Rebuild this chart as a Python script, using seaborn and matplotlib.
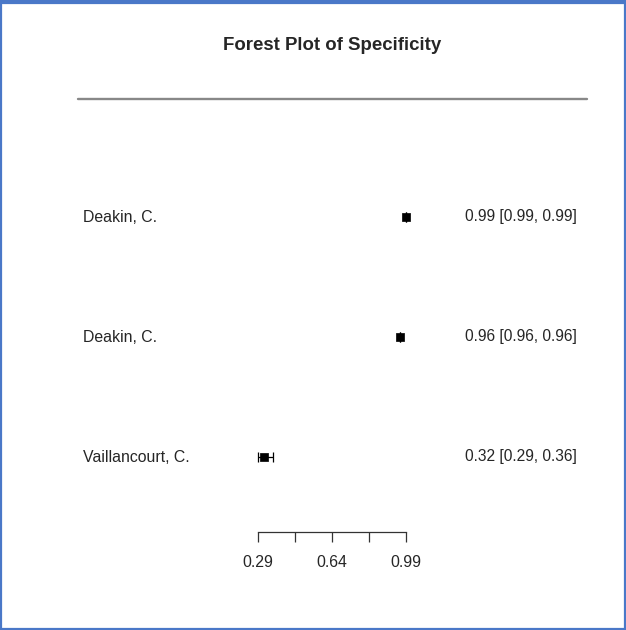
import numpy as np
import pandas as pd
import matplotlib
matplotlib.use("Agg")
import matplotlib.pyplot as plt
import matplotlib.transforms as mtransforms
from matplotlib.patches import Rectangle
from matplotlib.lines import Line2D
import seaborn as sns

# ── Data ──────────────────────────────────────────────────────────────────────
STUDIES = ["Deakin, C.", "Deakin, C.", "Vaillancourt, C."]
SPEC    = [0.99, 0.96, 0.32]
LOWER   = [0.99, 0.96, 0.29]
UPPER   = [0.99, 0.96, 0.36]
TICKS       = [0.29, 0.465, 0.64, 0.815, 0.99]
TICK_LABELS = ["0.29", "", "0.64", "", "0.99"]

df = pd.DataFrame({"study": STUDIES, "spec": SPEC, "lo": LOWER, "hi": UPPER})
df["row"] = np.arange(len(df))
df["label"] = [f"{s:.2f} [{l:.2f}, {h:.2f}]" for s, l, h in zip(SPEC, LOWER, UPPER)]

# ── Style ─────────────────────────────────────────────────────────────────────
sns.set_style("white")
plt.rcParams["font.family"] = ["Liberation Sans", "DejaVu Sans"]
TXT = "#262626"
BORDER = "#4a78c8"

W, H = 626, 630
fig = plt.figure(figsize=(W / 100, H / 100), dpi=100)
ax = fig.add_axes([0, 0, 1, 1])

# pixel mapping: 0.29 -> x=258, 0.99 -> x=406 ; row i -> y=217+120*i
ppu = (406 - 258) / (0.99 - 0.29)
ax.set_xlim(0.29 - 258 / ppu, 0.29 + (W - 258) / ppu)
ax.set_ylim((H - 217) / 120, -217 / 120)

# CI + points
ax.errorbar(df["spec"], df["row"],
            xerr=[df["spec"] - df["lo"], df["hi"] - df["spec"]],
            fmt="none", ecolor="black", elinewidth=0.9, capsize=3.5, capthick=0.9)
sns.scatterplot(data=df, x="spec", y="row", marker="s", s=32, color="black",
                edgecolor="black", linewidth=0.5, ax=ax, legend=False, zorder=3)

# study labels and estimate text
trans = mtransforms.blended_transform_factory(ax.transAxes, ax.transData)
for _, r in df.iterrows():
    ax.text(83 / W, r["row"], r["study"], transform=trans, ha="left",
            va="center", fontsize=11.4, color=TXT)
    ax.text(465 / W, r["row"], r["label"], transform=trans, ha="left",
            va="center", fontsize=11.2, color=TXT)

# bottom axis
for side in ["top", "right", "left"]:
    ax.spines[side].set_visible(False)
ax.spines["bottom"].set_position(("data", (532 - 217) / 120))
ax.spines["bottom"].set_bounds(TICKS[0], TICKS[-1])
ax.spines["bottom"].set_linewidth(0.9)
ax.spines["bottom"].set_color("#333333")
ax.set_xticks(TICKS)
ax.set_xticklabels(TICK_LABELS)
ax.tick_params(axis="x", direction="out", length=7.5, width=0.9, color="#333333",
               labelsize=11.4, labelcolor=TXT, pad=9, bottom=True)
ax.set_yticks([])
ax.set_xlabel("")
ax.set_ylabel("")

# title and header line
fig.text(332 / W, 1 - 45.5 / H, "Forest Plot of Specificity", ha="center",
         va="center", fontsize=13.4, fontweight="bold", color=TXT)
fig.add_artist(Line2D([78 / W, 587 / W], [1 - 99 / H] * 2, color="#888888",
                      lw=1.7, transform=fig.transFigure))

# blue frame
fig.add_artist(Rectangle((1 / W, 1 / H), 1 - 2 / W, 1 - 4 / H, fill=False,
                         edgecolor=BORDER, lw=1.6, transform=fig.transFigure))
fig.add_artist(Rectangle((0, 1 - 4 / H), 1, 4 / H, facecolor=BORDER,
                         edgecolor="none", transform=fig.transFigure))

fig.savefig("out.png", dpi=100)
